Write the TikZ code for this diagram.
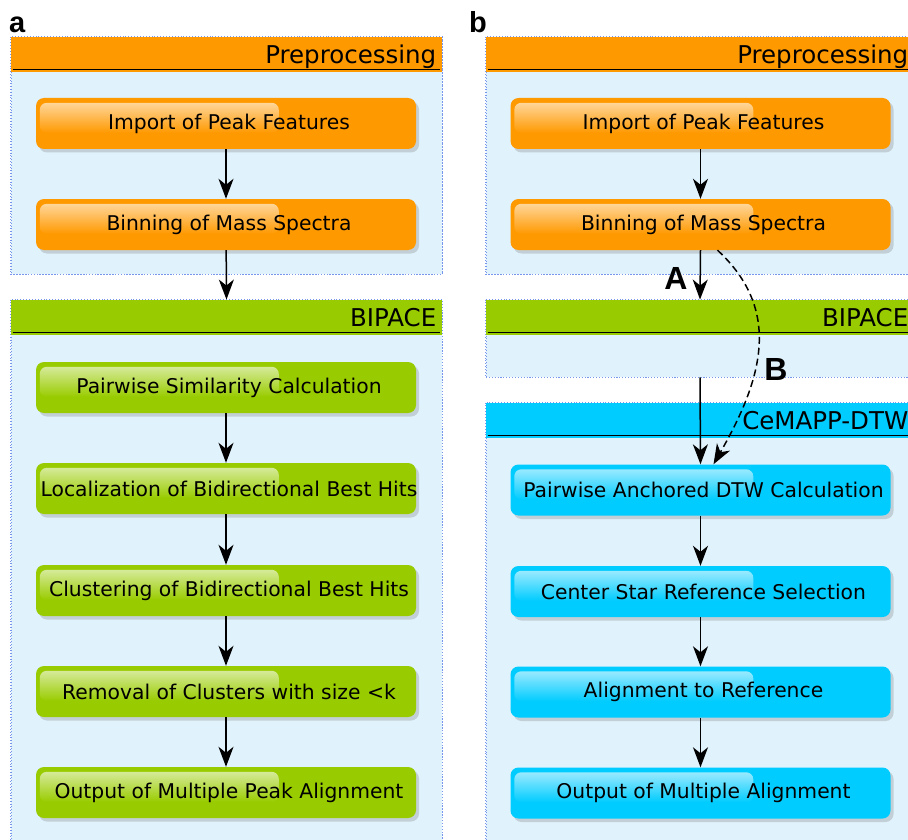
\documentclass[tikz,border=0pt]{standalone}
\usepackage{fontspec}
\setmainfont{DejaVu Sans}
\newfontfamily\labfont{Liberation Sans}
\usetikzlibrary{arrows.meta,shadows,fadings}
\definecolor{orng}{RGB}{255,153,0}
\definecolor{grn}{RGB}{153,204,0}
\definecolor{cyn}{RGB}{0,204,255}
\definecolor{secfill}{RGB}{224,242,252}
\definecolor{dotc}{RGB}{120,150,235}
\tikzset{
  secbox/.style={draw=dotc, dotted, line width=0.9pt, fill=secfill, inner sep=0pt},
  stepbox/.style={rounded corners=8pt, minimum width=380pt, minimum height=51pt, inner sep=0pt,
     drop shadow={shadow xshift=3pt, shadow yshift=-3.5pt, opacity=0.3}},
  steptext/.style={font=\fontsize{20.3}{24}\selectfont, text=black, inner sep=0pt},
  sectitle/.style={font=\fontsize{24.5}{28}\selectfont, anchor=base east, inner sep=0pt},
  panellab/.style={font=\labfont\bfseries\fontsize{29}{32}\selectfont, inner sep=0pt, anchor=base west},
  routelab/.style={font=\labfont\bfseries\fontsize{32}{34}\selectfont, inner sep=0pt},
  arr/.style={line width=1.5pt, -{Stealth[length=20pt, width=15pt, inset=6pt]}},
}
\newcommand\stepnode[4]{%
  \node[stepbox, fill=#2] (#1) at (#3) {};
  \fill[white, fill opacity=0.6, path fading=south, rounded corners=7pt]
     ([shift={(4,5)}]#1.north west) rectangle ([shift={(243,35)}]#1.north west);
  \node[steptext] (#1-t) at ([xshift=3pt]#1.center) {#4};
}
\newcommand\sechead[3]{%
  \fill[#2] (#1.north west) rectangle ([shift={(0,35)}]#1.north east);
  \draw[secbox, fill=none] (#1.north west) rectangle (#1.south east);
  \draw[line width=1.8pt] ([shift={(2,33)}]#1.north west) -- ([shift={(-2,33)}]#1.north east);
  \node[sectitle] (#1-t) at ([shift={(-6,27)}]#1.north east) {#3};
}
\begin{document}
\begin{tikzpicture}[x=1pt, y=-1pt]
\useasboundingbox (0,0) rectangle (908,840);
\clip (0,0) rectangle (908,840);

% ---------- panel a ----------
\node[panellab] (la) at (9,33) {a};
\node[secbox, minimum width=431pt, minimum height=237pt] (pa) at (226.5,155.5) {};
\sechead{pa}{orng}{Preprocessing}
\node[secbox, minimum width=431pt, minimum height=560pt] (ba) at (226.5,580) {};
\sechead{ba}{grn}{BIPACE}

\stepnode{a1}{orng}{226,123.5}{Import of Peak Features}
\stepnode{a2}{orng}{226,224.5}{Binning of Mass Spectra}
\stepnode{a3}{grn}{226,387.5}{Pairwise Similarity Calculation}
\stepnode{a4}{grn}{226,488.5}{Localization of Bidirectional Best Hits}
\stepnode{a5}{grn}{226,590.5}{Clustering of Bidirectional Best Hits}
\stepnode{a6}{grn}{226,691.5}{Removal of Clusters with size <k}
\stepnode{a7}{grn}{226,792.5}{Output of Multiple Peak Alignment}

\draw[arr] (a1) -- (a2);
\draw[arr] (a2) -- (ba.north);
\draw[arr] (a3) -- (a4);
\draw[arr] (a4) -- (a5);
\draw[arr] (a5) -- (a6);
\draw[arr] (a6) -- (a7);

% ---------- panel b ----------
\node[panellab] (lb) at (469,33) {b};
\node[secbox, minimum width=428pt, minimum height=237pt] (pb) at (700,155.5) {};
\sechead{pb}{orng}{Preprocessing}
\node[secbox, minimum width=428pt, minimum height=77pt] (bb) at (700,338.5) {};
\sechead{bb}{grn}{BIPACE}
\node[secbox, minimum width=428pt, minimum height=460pt] (cb) at (700,633) {};
\sechead{cb}{cyn}{CeMAPP-DTW}

\stepnode{b1}{orng}{700.5,123.5}{Import of Peak Features}
\stepnode{b2}{orng}{700.5,224.5}{Binning of Mass Spectra}
\stepnode{b3}{cyn}{700.5,490}{Pairwise Anchored DTW Calculation}
\stepnode{b4}{cyn}{700.5,591.5}{Center Star Reference Selection}
\stepnode{b5}{cyn}{700.5,692}{Alignment to Reference}
\stepnode{b6}{cyn}{700.5,793}{Output of Multiple Alignment}

\draw[arr] (b1) -- (b2);
\draw[arr] (b2.south) -- (bb.north);
\draw[arr] (bb.south) -- (b3.north);
\draw[arr, dash pattern=on 7pt off 4pt] ([xshift=17pt]b2.south) .. controls (782,310) and (763,378) .. ([xshift=13pt]b3.north);
\draw[arr] (b3) -- (b4);
\draw[arr] (b4) -- (b5);
\draw[arr] (b5) -- (b6);

\node[routelab] (rA) at (676,278) {A};
\node[routelab] (rB) at (776,369) {B};
\end{tikzpicture}
\end{document}
